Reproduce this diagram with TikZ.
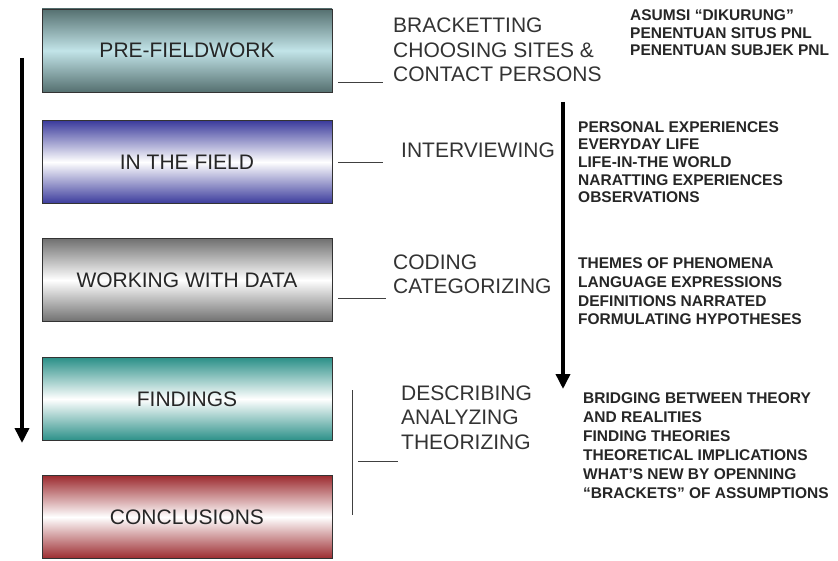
\documentclass[tikz,border=0pt]{standalone}
\usepackage{fontspec}
\setmainfont{Liberation Sans}
\usetikzlibrary{arrows.meta}
\definecolor{edgeA}{HTML}{557070}
\definecolor{midA}{HTML}{C2E4E8}
\definecolor{edgeB}{HTML}{3B3B9C}
\definecolor{edgeC}{HTML}{707070}
\definecolor{edgeD}{HTML}{2B9088}
\definecolor{edgeE}{HTML}{9C2B2F}
\begin{document}
\begin{tikzpicture}[x=1pt,y=-1pt,
  box/.style={draw=black!80, line width=0.8pt, minimum width=290pt, minimum height=83pt,
    inner sep=0pt, font=\fontsize{21}{24}\selectfont, text=black!85},
  lbl/.style={anchor=base west, align=left, inner sep=0pt,
    font=\fontsize{21}{24.5}\selectfont, text=black!80},
  blbl/.style={anchor=base west, align=left, inner sep=0pt,
    font=\bfseries\fontsize{15.5}{17.7}\selectfont, text=black!85},
  conn/.style={draw=black!75, line width=0.9pt},
  flow/.style={line width=3.5pt, -{Triangle[width=14pt,length=15pt]}}
]
\useasboundingbox (0,0) rectangle (838,561);
\fill[white] (0,0) rectangle (838,561);

% boxes
\node[box, top color=edgeA, bottom color=edgeA, middle color=midA] (b1) at (187,50.5) {PRE-FIELDWORK};
\node[box, top color=edgeB, bottom color=edgeB, middle color=white] (b2) at (187,162) {IN THE FIELD};
\node[box, top color=edgeC, bottom color=edgeC, middle color=white] (b3) at (187,280) {WORKING WITH DATA};
\node[box, top color=edgeD, bottom color=edgeD, middle color=white] (b4) at (187,399) {FINDINGS};
\node[box, top color=edgeE, bottom color=edgeE, middle color=white] (b5) at (187,517) {CONCLUSIONS};

% left flow arrow
\coordinate (la) at (22,58);
\coordinate (lb) at (22,443);
\draw[flow] (la) -- (lb);

% right flow arrow
\coordinate (ra) at (563,102);
\coordinate (rb) at (563,389);
\draw[flow] (ra) -- (rb);

% labels (anchor = baseline of the last line)
\node[lbl] (l1) at (393,82) {BRACKETTING\\CHOOSING SITES \&\\CONTACT PERSONS};
\node[lbl] (l2) at (401,158) {INTERVIEWING};
\node[lbl] (l3) at (393,294) {CODING\\CATEGORIZING};
\node[lbl] (l4) at (401,449) {DESCRIBING\\ANALYZING\\THEORIZING};

% bold notes
\node[blbl] (n1) at (630,56) {ASUMSI “DIKURUNG”\\PENENTUAN SITUS PNL\\PENENTUAN SUBJEK PNL};
\node[blbl] (n2) at (578,203) {PERSONAL EXPERIENCES\\EVERYDAY LIFE\\LIFE-IN-THE WORLD\\NARATTING EXPERIENCES\\OBSERVATIONS};
\node[blbl, font=\bfseries\fontsize{15.5}{18.8}\selectfont] (n3) at (578,325) {THEMES OF PHENOMENA\\LANGUAGE EXPRESSIONS\\DEFINITIONS NARRATED\\FORMULATING HYPOTHESES};
\node[blbl, font=\bfseries\fontsize{15.5}{19}\selectfont] (n4) at (583,498) {BRIDGING BETWEEN THEORY\\AND REALITIES\\FINDING THEORIES\\THEORETICAL IMPLICATIONS\\WHAT’S NEW BY OPENNING\\“BRACKETS” OF ASSUMPTIONS};

% connectors
\coordinate (c1a) at (338,82);  \coordinate (c1b) at (383,82);
\coordinate (c2a) at (338,162); \coordinate (c2b) at (383,162);
\coordinate (c3a) at (338,298); \coordinate (c3b) at (386,298);
\coordinate (v1) at (352,390);  \coordinate (v2) at (352,515);
\coordinate (c4a) at (358,461); \coordinate (c4b) at (398,461);
\draw[conn] (c1a) -- (c1b);
\draw[conn] (c2a) -- (c2b);
\draw[conn] (c3a) -- (c3b);
\draw[conn] (v1) -- (v2);
\draw[conn] (c4a) -- (c4b);
\end{tikzpicture}
\end{document}
